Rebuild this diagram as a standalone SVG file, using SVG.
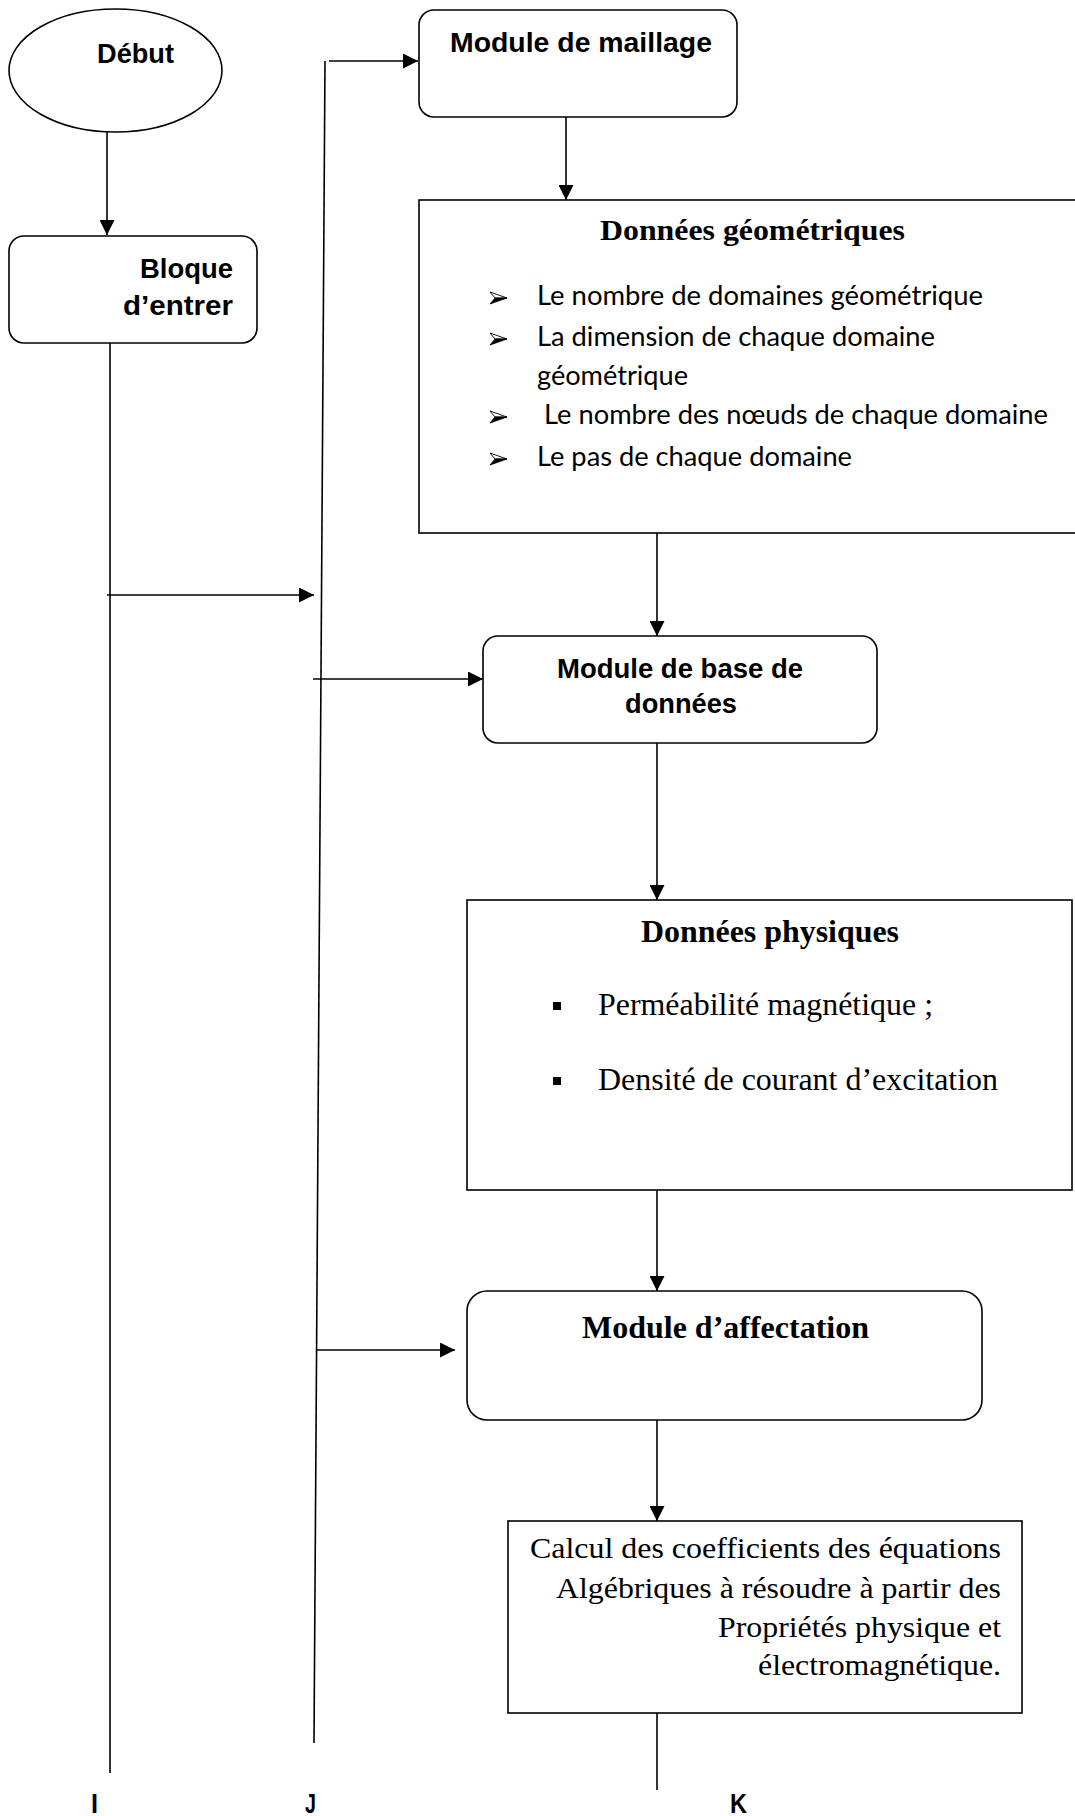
<svg xmlns="http://www.w3.org/2000/svg" width="1075" height="1816" viewBox="0 0 1075 1816">
<style>
.shape{fill:#fff;stroke:#000;stroke-width:1.6}
.ln{fill:none;stroke:#000;stroke-width:1.6}
.sb{font-family:"Liberation Sans",Arial,sans-serif;font-weight:bold;font-size:27px;fill:#000}
.tb{font-family:"Liberation Serif","Times New Roman",serif;font-weight:bold;fill:#000}
.tr{font-family:"Liberation Serif","Times New Roman",serif;fill:#000}
.cal{font-family:Lato,"Open Sans",sans-serif;font-size:27px;fill:#000}
.bul{fill:#000;stroke:#000;stroke-width:0.8;stroke-linejoin:miter}
</style>
<defs>
<marker id="ah" viewBox="0 0 15 15" refX="15" refY="7.5" markerWidth="15" markerHeight="15" markerUnits="userSpaceOnUse" orient="auto"><path d="M0,0 L15,7.5 L0,15 z" fill="#000"/></marker>
<g id="arrowbul"><path d="M0,-6 L17,0 L5,0 Z" fill="#fff" stroke="#000" stroke-width="0.9"/><path class="bul" d="M0,6 L17,0 L5,0 Z"/></g>
</defs>
<rect width="1075" height="1816" fill="#fff"/>
<g id="connectors">
<line class="ln" x1="107" y1="132" x2="107" y2="235" marker-end="url(#ah)"/>
<line class="ln" x1="110" y1="343" x2="110" y2="1773"/>
<line class="ln" x1="107" y1="595" x2="314" y2="595" marker-end="url(#ah)"/>
<line class="ln" x1="325" y1="61" x2="314" y2="1743"/>
<line class="ln" x1="329" y1="61" x2="418" y2="61" marker-end="url(#ah)"/>
<line class="ln" x1="566" y1="117" x2="566" y2="200" marker-end="url(#ah)"/>
<line class="ln" x1="657" y1="533" x2="657" y2="636" marker-end="url(#ah)"/>
<line class="ln" x1="313" y1="679" x2="483" y2="679" marker-end="url(#ah)"/>
<line class="ln" x1="657" y1="743" x2="657" y2="900" marker-end="url(#ah)"/>
<line class="ln" x1="657" y1="1190" x2="657" y2="1291" marker-end="url(#ah)"/>
<line class="ln" x1="316" y1="1350" x2="455" y2="1350" marker-end="url(#ah)"/>
<line class="ln" x1="657" y1="1420" x2="657" y2="1521" marker-end="url(#ah)"/>
<line class="ln" x1="657" y1="1713" x2="657" y2="1790"/>
</g>
<g id="debut">
<ellipse class="shape" cx="115.5" cy="70.5" rx="106.5" ry="61.5"/>
<text class="sb" x="97" y="63" textLength="77" lengthAdjust="spacingAndGlyphs">Début</text>
</g>
<g id="bloque">
<rect class="shape" x="9" y="236" width="248" height="107" rx="15"/>
<text class="sb" x="140" y="278" textLength="93" lengthAdjust="spacingAndGlyphs">Bloque</text>
<text class="sb" x="123" y="315" textLength="110" lengthAdjust="spacingAndGlyphs">d’entrer</text>
</g>
<g id="maillage">
<rect class="shape" x="419" y="10" width="318" height="107" rx="15"/>
<text class="sb" x="450" y="52" textLength="262" lengthAdjust="spacingAndGlyphs">Module de maillage</text>
</g>
<g id="geo">
<rect class="shape" x="419" y="200" width="700" height="333"/>
<text class="tb" font-size="30" x="600" y="240" textLength="305" lengthAdjust="spacingAndGlyphs">Données géométriques</text>
<use href="#arrowbul" x="490" y="298"/>
<text class="cal" x="537" y="305" textLength="446" lengthAdjust="spacingAndGlyphs">Le nombre de domaines géométrique</text>
<use href="#arrowbul" x="490" y="339"/>
<text class="cal" x="537" y="346" textLength="398" lengthAdjust="spacingAndGlyphs">La dimension de chaque domaine</text>
<text class="cal" x="537" y="385" textLength="151" lengthAdjust="spacingAndGlyphs">géométrique</text>
<use href="#arrowbul" x="490" y="417"/>
<text class="cal" x="544" y="424" textLength="504" lengthAdjust="spacingAndGlyphs">Le nombre des nœuds de chaque domaine</text>
<use href="#arrowbul" x="490" y="459"/>
<text class="cal" x="537" y="466" textLength="315" lengthAdjust="spacingAndGlyphs">Le pas de chaque domaine</text>
</g>
<g id="base">
<rect class="shape" x="483" y="636" width="394" height="107" rx="15"/>
<text class="sb" x="557" y="678" textLength="246" lengthAdjust="spacingAndGlyphs">Module de base de</text>
<text class="sb" x="625" y="713" textLength="112" lengthAdjust="spacingAndGlyphs">données</text>
</g>
<g id="phys">
<rect class="shape" x="467" y="900" width="605" height="290"/>
<text class="tb" font-size="31" x="641" y="942" textLength="258" lengthAdjust="spacingAndGlyphs">Données physiques</text>
<rect x="553" y="1002" width="8" height="8" fill="#000"/>
<text class="tr" font-size="32" x="598" y="1015" textLength="335" lengthAdjust="spacingAndGlyphs">Perméabilité magnétique ;</text>
<rect x="553" y="1077" width="8" height="8" fill="#000"/>
<text class="tr" font-size="32" x="598" y="1090" textLength="400" lengthAdjust="spacingAndGlyphs">Densité de courant d’excitation</text>
</g>
<g id="affectation">
<rect class="shape" x="467" y="1291" width="515" height="129" rx="20"/>
<text class="tb" font-size="32" x="582" y="1338" textLength="287" lengthAdjust="spacingAndGlyphs">Module d’affectation</text>
</g>
<g id="calcul">
<rect class="shape" x="508" y="1521" width="514" height="192"/>
<text class="tr" font-size="30" x="530" y="1558" textLength="471" lengthAdjust="spacingAndGlyphs">Calcul des coefficients des équations</text>
<text class="tr" font-size="30" x="556" y="1598" textLength="445" lengthAdjust="spacingAndGlyphs">Algébriques à résoudre à partir des</text>
<text class="tr" font-size="30" x="718" y="1637" textLength="283" lengthAdjust="spacingAndGlyphs">Propriétés physique et</text>
<text class="tr" font-size="30" x="758" y="1675" textLength="243" lengthAdjust="spacingAndGlyphs">électromagnétique.</text>
</g>
<g id="labels">
<text class="sb" font-size="28" x="91" y="1813" textLength="7" lengthAdjust="spacingAndGlyphs">I</text>
<text class="sb" font-size="28" x="305" y="1813" textLength="11" lengthAdjust="spacingAndGlyphs">J</text>
<text class="sb" font-size="28" x="730" y="1813" textLength="17" lengthAdjust="spacingAndGlyphs">K</text>
</g>
</svg>
